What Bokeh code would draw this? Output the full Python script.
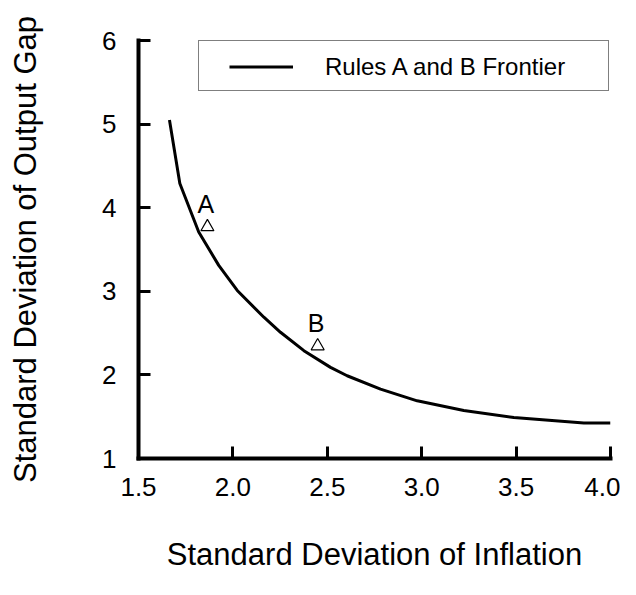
from bokeh.plotting import figure
from bokeh.models import ColumnDataSource, FixedTicker, Legend, LegendItem, Range1d
from bokeh.core.properties import value
from bokeh.embed import file_html
from bokeh.resources import INLINE

# Frontier data
frontier_x = [1.664, 1.719, 1.819, 1.925, 2.023, 2.164, 2.252, 2.376, 2.517, 2.605,
              2.782, 2.976, 3.223, 3.488, 3.859, 4.0]
frontier_y = [5.05, 4.29, 3.71, 3.31, 3.01, 2.69, 2.51, 2.29, 2.09, 1.99,
              1.83, 1.69, 1.574, 1.49, 1.425, 1.425]

# Rule points
rule_names = ["A", "B"]
rule_x = [1.865, 2.449]
rule_y = [3.77, 2.345]

x_ticks = [1.5, 2.0, 2.5, 3.0, 3.5, 4.0]
y_ticks = [1, 2, 3, 4, 5, 6]

legend_label = "Rules A and B Frontier"

FONT = "Liberation Sans"

p = figure(width=620, height=579, output_backend="svg", toolbar_location=None,
           x_range=Range1d(1.5, 4.0), y_range=Range1d(1, 6),
           min_border_left=138, min_border_right=10, min_border_top=40,
           min_border_bottom=121)
p.outline_line_color = None
p.xgrid.visible = False
p.ygrid.visible = False
p.background_fill_color = "white"
p.border_fill_color = "white"

line_r = p.line(frontier_x, frontier_y, line_color="black", line_width=3)

src = ColumnDataSource(dict(x=rule_x, y=rule_y, name=rule_names))
p.scatter("x", "y", source=src, marker="triangle", size=13,
          fill_color=None, line_color="black", line_width=1.2)
p.text("x", "y", text="name", source=src, text_font=value(FONT),
       text_font_size="25px", text_color="black", text_align="center",
       text_baseline="alphabetic", x_offset=-1.5, y_offset=-23)

for ax in (p.xaxis[0], p.yaxis[0]):
    ax.axis_line_width = 4
    ax.axis_line_color = "black"
    ax.axis_line_cap = "square"
    ax.major_tick_line_width = 3
    ax.major_tick_line_color = "black"
    ax.major_tick_in = 12
    ax.major_tick_out = 0
    ax.minor_tick_line_color = None
    ax.major_label_text_font = FONT
    ax.major_label_text_font_size = "26px"
    ax.major_label_text_color = "black"
    ax.axis_label_text_font = FONT
    ax.axis_label_text_font_size = "31px"
    ax.axis_label_text_font_style = "normal"
    ax.axis_label_text_color = "black"

p.xaxis[0].ticker = FixedTicker(ticks=x_ticks)
p.xaxis[0].major_label_overrides = {t: f"{t:.1f}" for t in x_ticks}
p.xaxis[0].major_label_standoff = 19
p.xaxis[0].axis_label = "Standard Deviation of Inflation"
p.xaxis[0].axis_label_standoff = 38

p.yaxis[0].ticker = FixedTicker(ticks=y_ticks)
p.yaxis[0].major_label_overrides = {t: str(t) for t in y_ticks}
p.yaxis[0].major_label_standoff = 22
p.yaxis[0].axis_label = "Standard Deviation of Output Gap"
p.yaxis[0].axis_label_standoff = 56

# legend frame (box only)
blank_r = p.line([], [], line_alpha=0)
frame_legend = Legend(items=[LegendItem(label=" ", renderers=[blank_r])],
                      location=(60, 367), padding=10, spacing=0,
                      glyph_width=20, glyph_height=29, label_height=29, label_width=364,
                      label_standoff=5, label_text_font_size="24px",
                      border_line_color="black", border_line_width=1,
                      background_fill_color="white", background_fill_alpha=1.0,
                      click_policy="none")
p.add_layout(frame_legend, "center")

# legend content (line sample + label)
legend = Legend(items=[LegendItem(label=legend_label, renderers=[line_r])],
                location=(91, 377), padding=0, spacing=0, margin=0,
                glyph_width=64, glyph_height=29, label_height=29, label_width=20,
                label_standoff=32, label_text_font=FONT, label_text_font_size="24px",
                label_text_color="black", border_line_color=None,
                background_fill_alpha=0.0)
p.add_layout(legend, "center")

open("out.html", "w").write(file_html(p, INLINE))
